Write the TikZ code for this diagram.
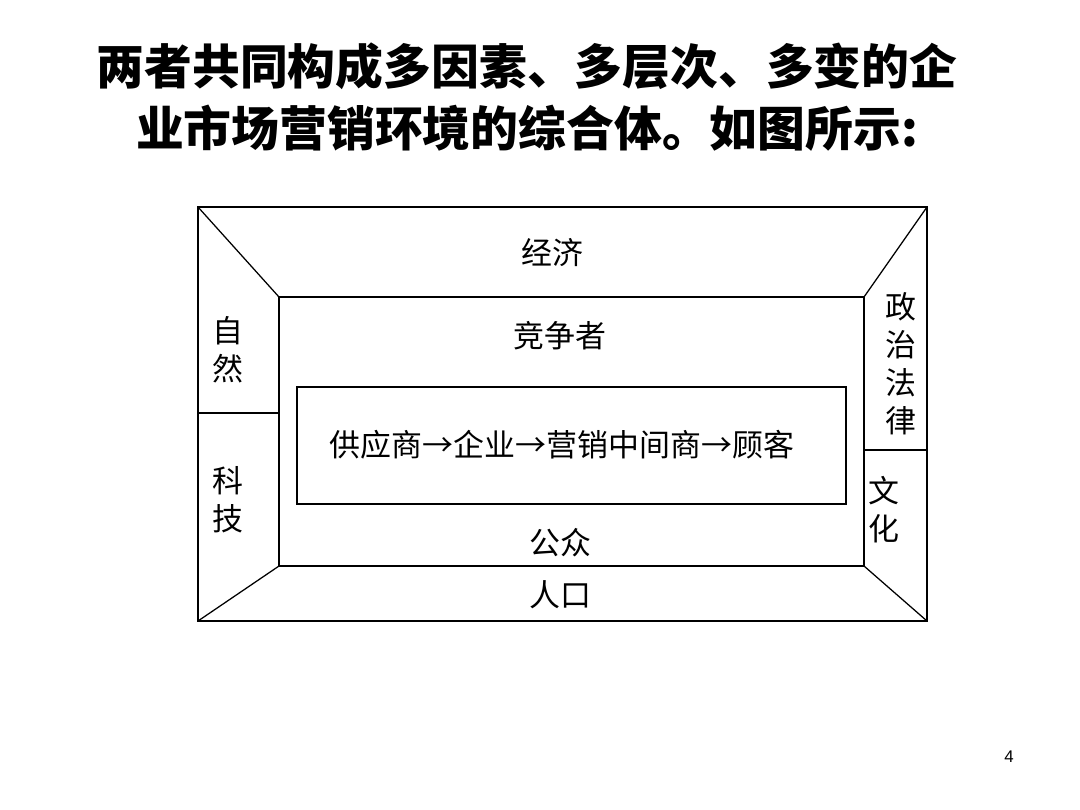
\documentclass[tikz,border=0pt]{standalone}
\usepackage{fontspec}
\newfontfamily\cjk{Noto Sans CJK SC}
\setmainfont{Liberation Sans}
\usetikzlibrary{positioning}
\tikzset{lbl/.style={font=\cjk\fontsize{22}{27}\selectfont, inner sep=1pt, align=center},
  frame/.style={line width=0.9pt}}

\begin{document}
\begin{tikzpicture}[x=0.025cm,y=-0.025cm]
	\useasboundingbox (0,0) rectangle (1080,810);
	\node[font=\cjk\bfseries\fontsize{34}{44}\selectfont, align=center] (title) at (527,97)
		{两者共同构成多因素、多层次、多变的企\\业市场营销环境的综合体。如图所示:};

	% frames
	\coordinate (o1) at (198,207); \coordinate (o2) at (927,207);
	\coordinate (o3) at (927,621); \coordinate (o4) at (198,621);
	\coordinate (i1) at (279,297); \coordinate (i2) at (864,297);
	\coordinate (i3) at (864,566); \coordinate (i4) at (279,566);
	\draw [frame] (o1) rectangle (o3);
	\draw [frame] (i1) rectangle (i3);
	\draw [frame] (o1) -- (i1);
	\draw [frame] (o2) -- (i2);
	\draw [frame] (o3) -- (i3);
	\draw [frame] (o4) -- (i4);
	\draw [frame] (198,413) -- (279,413);
	\draw [frame] (864,450) -- (927,450);
	\draw [frame] (297,387) rectangle (846,504);

	\node[lbl] (eco) at (552,253) {经济};
	\node[lbl] (comp) at (560,336) {竞争者};
	\node[lbl] (chain) at (562,445) {供应商→企业→营销中间商→顾客};
	\node[lbl] (pub) at (560,543) {公众};
	\node[lbl] (pop) at (560,595) {人口};
	\node[lbl] (nat) at (228,350) {自\\然};
	\node[lbl] (tech) at (228,500) {科\\技};
	\node[lbl] (pol) at (901,364) {政\\治\\法\\律};
	\node[lbl] (cul) at (884,510) {文\\化};

	\node[font=\fontsize{12}{14}\selectfont] (pg) at (1009,757) {4};
\end{tikzpicture}
\end{document}
